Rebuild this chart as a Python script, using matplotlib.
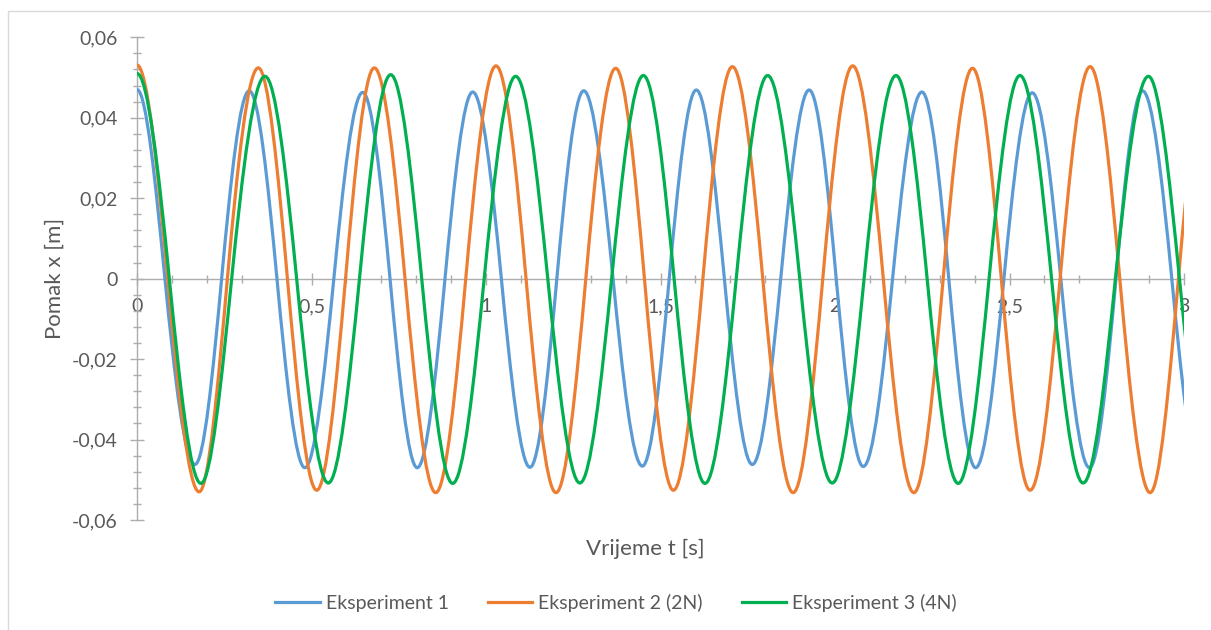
import numpy as np
import matplotlib
matplotlib.use('Agg')
import matplotlib.pyplot as plt
from matplotlib.path import Path
from matplotlib.patches import PathPatch, Rectangle
from matplotlib.lines import Line2D
from matplotlib.ticker import MultipleLocator, FuncFormatter

plt.rcParams['font.family'] = ['Lato', 'DejaVu Sans']

# --------------------------------------
# Data: key points (peaks, troughs, zero crossings)
# --------------------------------------
labels = ['Eksperiment 1', 'Eksperiment 2 (2N)', 'Eksperiment 3 (4N)']
colors = ['#5B9BD5', '#ED7D31', '#00B050']

# Eksperiment 1
t1 = [0.0, 0.080, 0.166, 0.2425, 0.3215, 0.401, 0.481, 0.564, 0.6467, 0.725,
      0.803, 0.8825, 0.962, 1.044, 1.126, 1.203, 1.280, 1.364, 1.448, 1.525,
      1.6026, 1.683, 1.763, 1.8445, 1.926, 2.0035, 2.081, 2.165, 2.249, 2.326,
      2.403, 2.484, 2.565, 2.647, 2.729, 2.805, 2.881, 2.965, 3.045]
x1 = [0.0470, 0, -0.0462, 0, 0.0467, 0, -0.0470, 0, 0.0463, 0,
      -0.0470, 0, 0.0464, 0, -0.0469, 0, 0.0467, 0, -0.0466, 0,
      0.0469, 0, -0.0462, 0, 0.0469, 0, -0.0467, 0, 0.0464, 0,
      -0.0470, 0, 0.0462, 0, -0.0470, 0, 0.0467, 0, -0.0467]

# Eksperiment 2 (2N)
t2 = [0.0, 0.088, 0.178, 0.259, 0.3476, 0.431, 0.515, 0.5975, 0.680, 0.768,
      0.856, 0.942, 1.0287, 1.1147, 1.2006, 1.286, 1.3716, 1.454, 1.537, 1.6215,
      1.706, 1.793, 1.880, 1.965, 2.0507, 2.1384, 2.226, 2.310, 2.394, 2.4765,
      2.559, 2.645, 2.731, 2.816, 2.903, 2.984, 3.07]
x2 = [0.0531, 0, -0.0530, 0, 0.0524, 0, -0.0526, 0, 0.0524, 0,
      -0.0532, 0, 0.0529, 0, -0.0532, 0, 0.0523, 0, -0.0526, 0,
      0.0527, 0, -0.0532, 0, 0.0529, 0, -0.0532, 0, 0.0523, 0,
      -0.0526, 0, 0.0527, 0, -0.0532, 0, 0.0527]

# Eksperiment 3 (4N)
t3 = [0.0, 0.0926, 0.183, 0.2713, 0.3668, 0.4574, 0.548, 0.6375, 0.727, 0.8158,
      0.9045, 0.9948, 1.085, 1.177, 1.269, 1.360, 1.451, 1.539, 1.6275, 1.717,
      1.807, 1.899, 1.992, 2.0834, 2.1748, 2.264, 2.353, 2.4415, 2.530, 2.6205,
      2.711, 2.8035, 2.898, 2.987, 3.08]
x3 = [0.0510, 0, -0.0509, 0, 0.0503, 0, -0.0508, 0, 0.0507, 0,
      -0.0509, 0, 0.0503, 0, -0.0508, 0, 0.0505, 0, -0.0509, 0,
      0.0505, 0, -0.0508, 0, 0.0505, 0, -0.0509, 0, 0.0505, 0,
      -0.0508, 0, 0.0503, 0, -0.0508]

series = [(t1, x1), (t2, x2), (t3, x3)]

xticks = [0, 0.5, 1, 1.5, 2, 2.5, 3]
yticks = [-0.06, -0.04, -0.02, 0, 0.02, 0.04, 0.06]

gray = '#ADADAD'
txt = '#595959'


def smooth_path(ts, vs):
    # smoothed line like Excel: cubic Bezier segments through the key points
    ts = np.asarray(ts, float)
    vs = np.asarray(vs, float)
    n = len(ts)
    m = np.zeros(n)
    for i in range(1, n - 1):
        m[i] = (np.pi / 2) * (vs[i + 1] - vs[i - 1]) / (ts[i + 1] - ts[i - 1])
    verts = [(ts[0], vs[0])]
    codes = [Path.MOVETO]
    for i in range(n - 1):
        h = ts[i + 1] - ts[i]
        verts += [(ts[i] + h / 3, vs[i] + m[i] * h / 3),
                  (ts[i + 1] - h / 3, vs[i + 1] - m[i + 1] * h / 3),
                  (ts[i + 1], vs[i + 1])]
        codes += [Path.CURVE4] * 3
    return Path(verts, codes)


def comma(v, pos):
    if abs(v) < 1e-9:
        return '0'
    return ('%g' % round(v, 3)).replace('.', ',')


fig = plt.figure(figsize=(12.11, 6.30), dpi=100)
W, H = 1211, 630
ax = fig.add_axes([137 / W, 1 - 520 / H, (1184 - 137) / W, (520 - 37.3) / H])

for (ts, vs), c in zip(series, colors):
    ax.add_patch(PathPatch(smooth_path(ts, vs), fill=False, edgecolor=c,
                           lw=2.3, zorder=3, capstyle='round', joinstyle='round'))

ax.set_xlim(0, 3)
ax.set_ylim(-0.06, 0.06)
ax.spines['top'].set_visible(False)
ax.spines['right'].set_visible(False)
ax.spines['bottom'].set_position(('data', 0))
for s in ['left', 'bottom']:
    ax.spines[s].set_color(gray)
    ax.spines[s].set_linewidth(1.0)

ax.set_xticks(xticks)
ax.set_yticks(yticks)
ax.xaxis.set_minor_locator(MultipleLocator(0.1))
ax.yaxis.set_minor_locator(MultipleLocator(0.004))
ax.xaxis.set_major_formatter(FuncFormatter(comma))
ax.yaxis.set_major_formatter(FuncFormatter(comma))

ax.tick_params(axis='y', which='major', direction='inout', length=10, width=1,
               color=gray, labelsize=14, labelcolor=txt, pad=9)
ax.tick_params(axis='y', which='minor', direction='inout', length=6, width=1, color=gray)
ax.tick_params(axis='x', which='major', direction='inout', length=8.5, width=1,
               color=gray, labelsize=14, labelcolor=txt, pad=10)
ax.tick_params(axis='x', which='minor', direction='inout', length=5.5, width=1, color=gray)

fig.text(55 / W, 1 - 278 / H, 'Pomak x [m]', rotation=90, ha='center', va='center',
         fontsize=16, color=txt)
fig.text(645 / W, 1 - 549 / H, 'Vrijeme t [s]', ha='center', va='center',
         fontsize=16, color=txt)

handles = [Line2D([], [], color=c, lw=2.3) for c in colors]
fig.legend(handles, labels, loc='center', bbox_to_anchor=(616 / W, 1 - 603 / H),
           ncol=3, frameon=False, fontsize=14, handlelength=2.3, handletextpad=0.3,
           columnspacing=2.0, labelcolor=txt)

# chart area border
fig.patches.append(Rectangle((8 / W, -0.2), 1.2, 1.2 - 11 / H, transform=fig.transFigure,
                             fill=False, ec='#D9D9D9', lw=1.0))

fig.savefig('out.png', dpi=100)
